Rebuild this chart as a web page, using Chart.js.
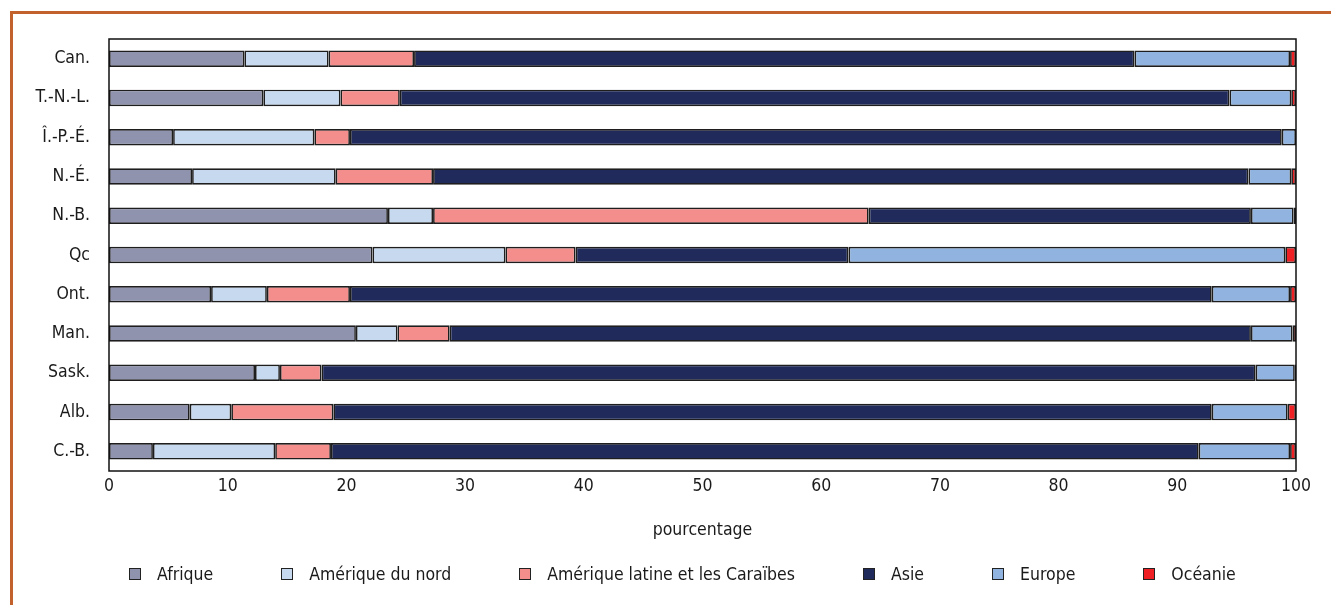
<!DOCTYPE html>
<html lang="fr">
<head>
<meta charset="utf-8">
<title>Immigrants par région de naissance</title>
<script src="https://cdn.jsdelivr.net/npm/chart.js@4.4.1/dist/chart.umd.min.js"></script>
<style>
    body { margin: 0; background: #fff; font-family: "Liberation Sans Narrow", "DejaVu Sans Condensed", sans-serif; }
    .frame { position: absolute; left: 10px; top: 11px; width: 1400px; height: 700px; border: 3px solid #c2612c; }
    .wrap { position: absolute; left: 0; top: 0; width: 1331px; height: 605px; }
    #legend { position: absolute; top: 564px; left: 129px; display: flex; align-items: center; font-size: 17.5px; color: #1a1a1a; }
    .item { display: flex; align-items: center; margin-right: 68px; }
    .box { width: 10px; height: 10px; border: 1.5px solid #222; margin-right: 16px; }
</style>
</head>
<body>
<div class="frame"></div>
<div class="wrap"><canvas id="chart" width="1331" height="605"></canvas></div>
<div id="legend"></div>
<script>
const provinces = ['Can.', 'T.-N.-L.', 'Î.-P.-É.', 'N.-É.', 'N.-B.', 'Qc', 'Ont.', 'Man.', 'Sask.', 'Alb.', 'C.-B.'];
const xTicks = [0, 10, 20, 30, 40, 50, 60, 70, 80, 90, 100];

// parts in percent, one value per province
const afrique   = [11.4, 13.0, 5.4, 7.0, 23.5, 22.2, 8.6, 20.8, 12.3, 6.8, 3.7];
const ameriqueN = [7.1, 6.5, 11.9, 12.1, 3.8, 11.2, 4.7, 3.5, 2.1, 3.5, 10.3];
const latine    = [7.2, 5.0, 3.0, 8.2, 36.7, 5.9, 7.0, 4.4, 3.5, 8.6, 4.7];
const asie      = [60.7, 69.9, 78.5, 68.7, 32.2, 23.0, 72.6, 67.5, 78.7, 74.0, 73.1];
const europe    = [13.1, 5.2, 1.2, 3.6, 3.6, 36.8, 6.6, 3.5, 3.3, 6.4, 7.7];
const oceanie   = [0.5, 0.4, 0.0, 0.4, 0.2, 0.9, 0.5, 0.3, 0.2, 0.7, 0.5];

const seriesNames = ['Afrique', 'Amérique du nord', 'Amérique latine et les Caraïbes', 'Asie', 'Europe', 'Océanie'];
const seriesData = [afrique, ameriqueN, latine, asie, europe, oceanie];
const seriesColors = ['#8f93ae', '#c6d9ee', '#f38e8c', '#202b5c', '#90b4df', '#ee2024'];

Chart.defaults.font.family = '"Liberation Sans Narrow", "DejaVu Sans Condensed", sans-serif';
Chart.defaults.color = '#1a1a1a';

// black frame around the plot area
const plotFrame = {
    id: 'plotFrame',
    afterDatasetsDraw(chart) {
        const a = chart.chartArea;
        const ctx = chart.ctx;
        ctx.save();
        ctx.strokeStyle = '#111';
        ctx.lineWidth = 1.5;
        ctx.strokeRect(a.left, a.top, a.right - a.left, a.bottom - a.top);
        ctx.restore();
    }
};

const ctx = document.getElementById('chart').getContext('2d');
new Chart(ctx, {
    type: 'bar',
    data: {
        labels: provinces,
        datasets: seriesNames.map((name, i) => ({
            label: name,
            data: seriesData[i],
            backgroundColor: seriesColors[i],
            borderColor: '#1e1e1e',
            borderWidth: 1.7,
            borderSkipped: false,
            categoryPercentage: 1,
            barPercentage: 0.42
        }))
    },
    options: {
        indexAxis: 'y',
        responsive: false,
        animation: false,
        layout: { padding: { left: 0, right: 35, top: 39, bottom: 64 } },
        plugins: {
            legend: { display: false },
            tooltip: { enabled: false }
        },
        scales: {
            x: {
                stacked: true,
                min: 0,
                max: 100,
                afterBuildTicks: scale => { scale.ticks = xTicks.map(v => ({ value: v })); },
                grid: { display: false, drawTicks: false },
                border: { display: false },
                ticks: { padding: 5, font: { size: 17.5 } },
                title: { display: true, text: 'pourcentage', font: { size: 17.5 }, padding: { top: 6, bottom: 0 } },
                afterFit: scale => { scale.height = 70; }
            },
            y: {
                stacked: true,
                grid: { display: false, drawTicks: false },
                border: { display: false },
                ticks: { padding: 19, font: { size: 17.5 } },
                afterFit: scale => { scale.width = 109; }
            }
        }
    },
    plugins: [plotFrame]
});

// legend built from the series
const legend = document.getElementById('legend');
seriesNames.forEach((name, i) => {
    legend.insertAdjacentHTML('beforeend',
        `<div class="item"><span class="box" style="background:${seriesColors[i]}"></span><span>${name}</span></div>`);
});
</script>
</body>
</html>
